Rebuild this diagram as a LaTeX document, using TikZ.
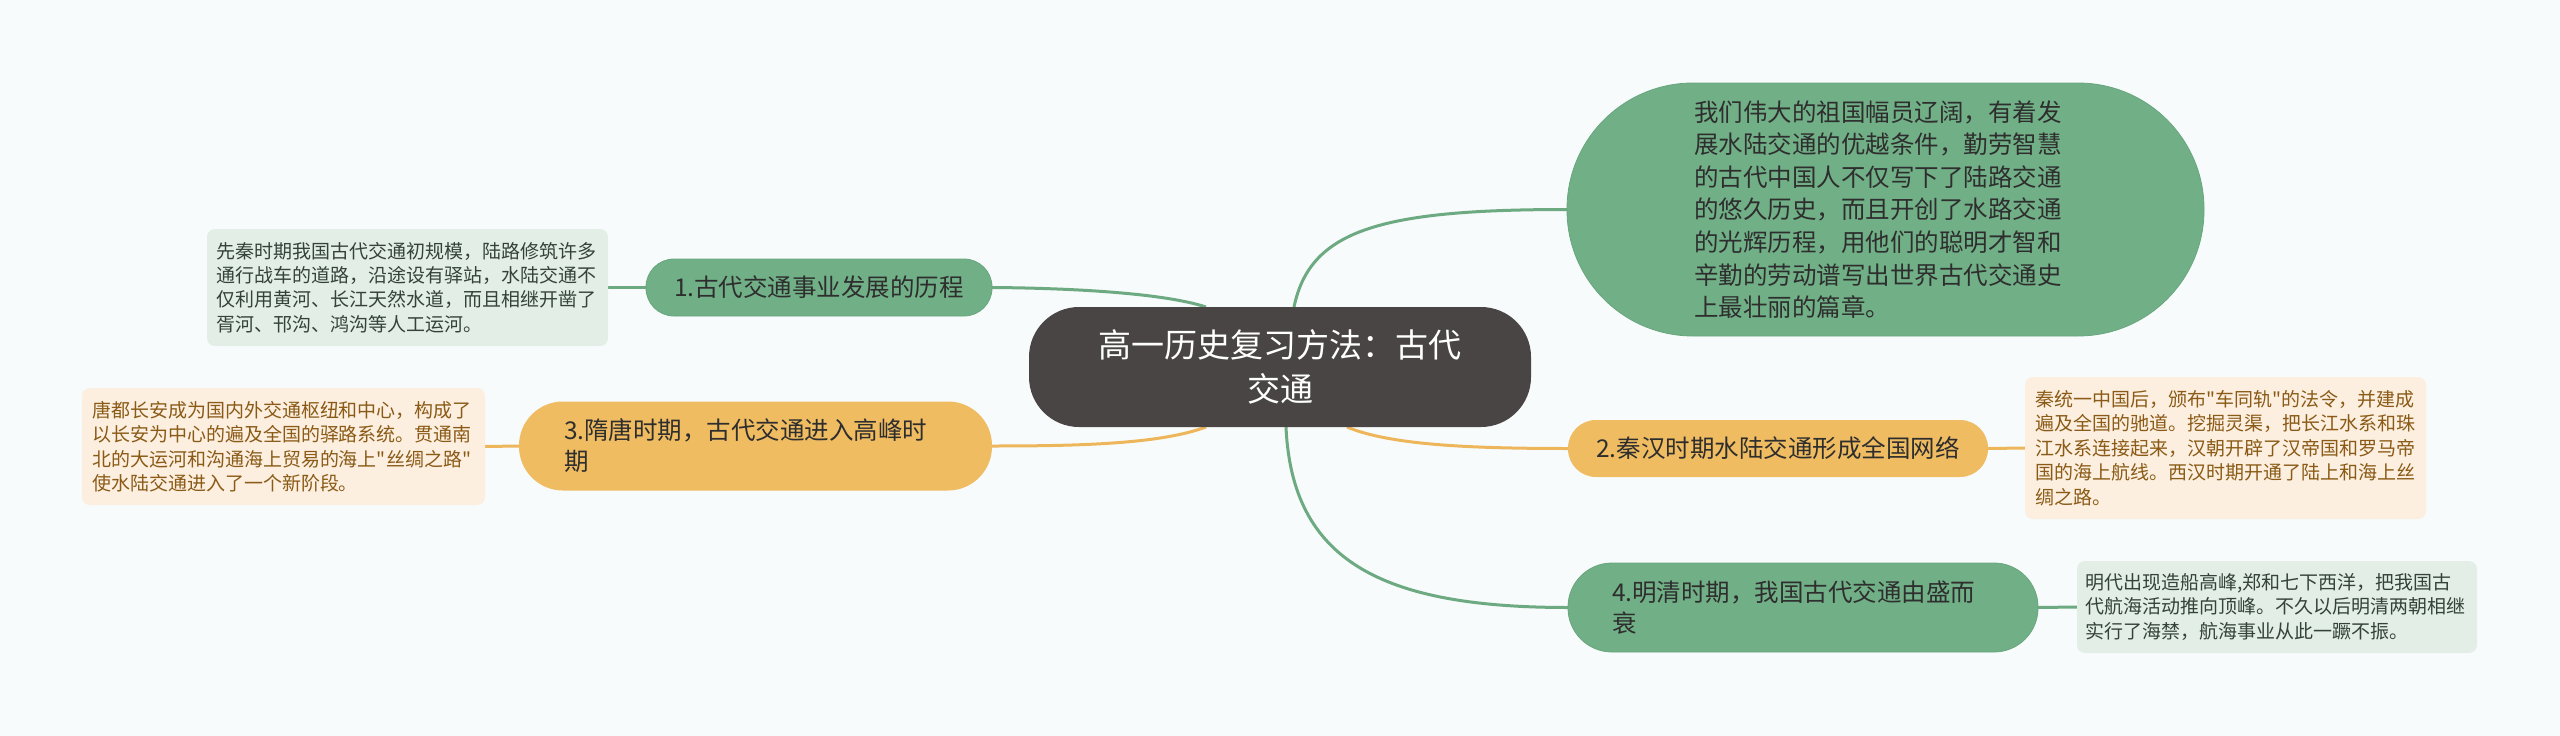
\documentclass[tikz,border=0pt]{standalone}
\usepackage{fontspec}
\setmainfont{Noto Sans CJK SC}[Ligatures=TeXOff]
\usetikzlibrary{backgrounds}
\definecolor{bgc}{HTML}{F7FBFC}
\definecolor{hubc}{HTML}{4A4545}
\definecolor{gfill}{HTML}{71B087}
\definecolor{gedge}{HTML}{68A67E}
\definecolor{glinec}{HTML}{6DAA82}
\definecolor{ofill}{HTML}{F0BC62}
\definecolor{olinec}{HTML}{EEB65B}
\definecolor{glfill}{HTML}{E3EFE6}
\definecolor{gltext}{HTML}{34423A}
\definecolor{olfill}{HTML}{FCEFDF}
\definecolor{oltext}{HTML}{8A5A16}
\definecolor{ntext}{HTML}{2E2E2E}
\begin{document}
\begin{tikzpicture}[x=1pt,y=-1pt,
  every node/.style={inner sep=0pt,outer sep=0pt},
  hub/.style={fill=hubc,text=white,rounded corners=50pt,minimum width=502pt,minimum height=120pt,align=center,font=\fontsize{33}{44}\selectfont},
  gbranch/.style={fill=gfill,draw=gedge,line width=0.8pt,text=ntext},
  obranch/.style={fill=ofill,text=ntext},
  btext/.style={font=\fontsize{24.5}{31}\selectfont},
  gleaf/.style={fill=glfill,text=gltext,rounded corners=8pt,align=left,font=\fontsize{19}{24.4}\selectfont},
  oleaf/.style={fill=olfill,text=oltext,rounded corners=8pt,align=left,font=\fontsize{19}{24.4}\selectfont},
  gconn/.style={draw=glinec,line width=3pt},
  oconn/.style={draw=olinec,line width=3pt}]
\useasboundingbox (0,0) rectangle (2560,736);

% central topic
\node[hub] (hub) at (1280,367) {高一历史复习方法：古代\\交通};

% intro bubble
\node[gbranch,rounded corners=126pt,minimum width=637pt,minimum height=253pt,text width=383pt,align=left,font=\fontsize{24.5}{32.6}\selectfont] (intro) at (1885.5,209.5) {%
我们伟大的祖国幅员辽阔，有着发\\
展水陆交通的优越条件，勤劳智慧\\
的古代中国人不仅写下了陆路交通\\
的悠久历史，而且开创了水路交通\\
的光辉历程，用他们的聪明才智和\\
辛勤的劳动谱写出世界古代交通史\\
上最壮丽的篇章。};

% branches
\node[gbranch,btext,rounded corners=28pt,minimum width=346pt,minimum height=57pt] (n1) at (819,287.5) {1.古代交通事业发展的历程};
\node[obranch,btext,rounded corners=28pt,minimum width=420pt,minimum height=57pt] (n2) at (1778,448.5) {2.秦汉时期水陆交通形成全国网络};
\node[obranch,btext,rounded corners=44pt,minimum width=473pt,minimum height=89pt,text width=383pt,align=left] (n3) at (755.5,446) {3.隋唐时期，古代交通进入高峰时\\期};
\node[gbranch,btext,rounded corners=44pt,minimum width=470pt,minimum height=89pt,text width=382pt,align=left] (n4) at (1803,607.5) {4.明清时期，我国古代交通由盛而\\衰};

% leaves
\node[gleaf,minimum width=401pt,minimum height=117pt,text width=383pt] (l1) at (407.5,287.5) {%
先秦时期我国古代交通初规模，陆路修筑许多\\
通行战车的道路，沿途设有驿站，水陆交通不\\
仅利用黄河、长江天然水道，而且相继开凿了\\
胥河、邗沟、鸿沟等人工运河。};
\node[oleaf,minimum width=403pt,minimum height=117pt,text width=383pt] (l3) at (283.5,446.5) {%
唐都长安成为国内外交通枢纽和中心，构成了\\
以长安为中心的遍及全国的驿路系统。贯通南\\
北的大运河和沟通海上贸易的海上"丝绸之路"\\
使水陆交通进入了一个新阶段。};
\node[oleaf,minimum width=401pt,minimum height=142pt,text width=381pt] (l2) at (2225.5,448) {%
秦统一中国后，颁布"车同轨"的法令，并建成\\
遍及全国的驰道。挖掘灵渠，把长江水系和珠\\
江水系连接起来，汉朝开辟了汉帝国和罗马帝\\
国的海上航线。西汉时期开通了陆上和海上丝\\
绸之路。};
\node[gleaf,minimum width=400pt,minimum height=92pt,text width=384pt] (l4) at (2277,607) {%
明代出现造船高峰,郑和七下西洋，把我国古\\
代航海活动推向顶峰。不久以后明清两朝相继\\
实行了海禁，航海事业从此一蹶不振。};

% attachment points on the central topic
\coordinate (hA) at ([xshift=-74pt]hub.north);
\coordinate (hB) at ([xshift=14pt]hub.north);
\coordinate (hC) at ([xshift=67pt]hub.south);
\coordinate (hD) at ([xshift=6pt]hub.south);
\coordinate (hE) at ([xshift=-74pt]hub.south);

\begin{scope}[on background layer]
\fill[bgc] (0,0) rectangle (2560,736);
\draw[gconn] (hA) .. controls (1160,292) and (1060,288) .. (n1.east);
\draw[gconn] (hB) .. controls (1310,230) and (1380,209.5) .. (intro.west);
\draw[oconn] (hC) .. controls (1390,445) and (1470,448.5) .. (n2.west);
\draw[gconn] (hD) .. controls (1292,560) and (1380,607.5) .. (n4.west);
\draw[oconn] (hE) .. controls (1160,444) and (1080,446) .. (n3.east);
\draw[gconn] (n1.west) -- (l1.east);
\draw[oconn] (n3.west) -- (l3.east);
\draw[oconn] (n2.east) -- (l2.west);
\draw[gconn] (n4.east) -- (l4.west);
\end{scope}
\end{tikzpicture}
\end{document}
